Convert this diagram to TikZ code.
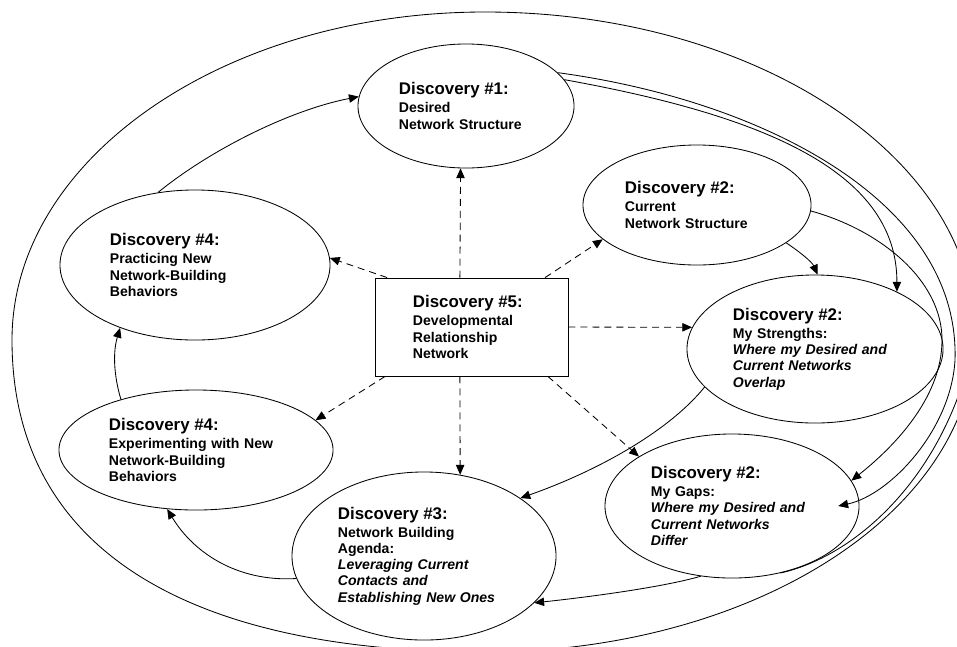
\documentclass[tikz,border=0pt]{standalone}
\usepackage{fontspec}
\setmainfont{Liberation Sans}
\usepackage{tikz}
\usetikzlibrary{shapes.geometric,arrows.meta}
\newcommand{\dischead}[1]{{\fontsize{12}{13}\selectfont #1}\\[1.2pt]}

\begin{document}
\begin{tikzpicture}[x=0.025cm,y=-0.025cm,line width=0.6pt,
    >={Triangle[length=7pt,width=6pt]},
    disc/.style={ellipse,draw,inner sep=0pt,align=left,
      font=\bfseries\fontsize{10}{11.6}\selectfont},
    hub/.style={rectangle,draw,inner sep=0pt,align=left,
      font=\bfseries\fontsize{10}{11.6}\selectfont},
    spoke/.style={->,dash pattern=on 5pt off 3.5pt},
    flow/.style={->}]
  \useasboundingbox (0,0) rectangle (957,646);

  % outer rim
  \draw (12,340) .. controls (12,159) and (224,12) .. (485,12)
    .. controls (755,12) and (975,157) .. (975,335)
    .. controls (975,510) and (755,652) .. (485,652)
    .. controls (178,652) and (12,543) .. cycle;

  \node[disc,minimum width=5.4cm,minimum height=3.1cm,text width=3.35cm] (D1) at (466,106)
    {\dischead{Discovery \#1:}Desired\\Network Structure};
  \node[disc,minimum width=5.7cm,minimum height=3.0cm,text width=3.6cm] (D2c) at (697,205)
    {\dischead{Discovery \#2:}Current\\Network Structure};
  \node[disc,minimum width=6.4cm,minimum height=3.7cm,text width=4.1cm] (D2s) at (815,349)
    {\dischead{Discovery \#2:}My Strengths:\\\itshape Where my Desired and\\Current Networks\\Overlap};
  \node[disc,minimum width=6.35cm,minimum height=3.6cm,text width=4.05cm] (D2g) at (732,506)
    {\dischead{Discovery \#2:}My Gaps:\\\itshape Where my Desired and\\Current Networks\\Differ};
  \node[disc,minimum width=6.6cm,minimum height=4.2cm,text width=4.3cm] (D3) at (424,556)
    {\dischead{Discovery \#3:}Network Building\\Agenda:\\\itshape Leveraging Current\\Contacts and\\Establishing New Ones};
  \node[disc,minimum width=6.85cm,minimum height=3.0cm,text width=4.35cm] (D4e) at (196,450)
    {\dischead{Discovery \#4:}Experimenting with New\\Network-Building\\Behaviors};
  \node[disc,minimum width=6.75cm,minimum height=3.75cm,text width=4.25cm] (D4p) at (195,265)
    {\dischead{Discovery \#4:}Practicing New\\Network-Building\\Behaviors};
  \node[hub,minimum width=4.825cm,minimum height=2.45cm,text width=2.925cm] (D5) at (471.5,327)
    {\dischead{Discovery \#5:}Developmental\\Relationship\\Network};

  \coordinate (gapin) at ([xshift=-5.3mm]D2g.east);
  \coordinate (rim) at (975,335);

  % dashed spokes from the hub
  \draw[spoke] ([xshift=-2.9mm]D5.north) -- (D1.265);
  \draw[spoke] ([xshift=18.4mm]D5.north) -- (D2c.200);
  \draw[spoke] (D5.east) -- (D2s.170);
  \draw[spoke] ([xshift=19.1mm]D5.south) -- (D2g.152);
  \draw[spoke] ([xshift=-2.9mm]D5.south) -- (D3.66);
  \draw[spoke] ([xshift=-21.6mm]D5.south) -- (D4e.14);
  \draw[spoke] ([xshift=-21.1mm]D5.north) -- (D4p.3);

  % the cycle
  \draw[flow] (D4p.117) .. controls (210,150) and (290,110) .. (D1.175);
  \draw[flow] (D4e.146) .. controls (115,380) and (112,355) .. (D4p.220);
  \draw[flow] (D3.190) .. controls (240,582) and (195,555) .. (D4e.244);
  \draw[flow] (D2s.199) .. controls (670,430) and (600,470) .. (D3.31);
  \draw[flow] (D2g.246) .. controls (660,588) and (580,598) .. (D3.337);
  \draw[flow] (D2c.337) .. controls (800,252) and (812,262) .. (D2s.88);
  \draw[flow] (D1.15) .. controls (760,115) and (897,170) .. (D2s.35);
  \draw[flow] (D1.20) .. controls (760,100) and (960,200) .. (955,360)
    .. controls (951,430) and (890,495) .. (gapin);
  \draw[flow] (D2c.357) .. controls (880,230) and (942,280) .. (942,340)
    .. controls (942,400) and (890,450) .. (D2g.12);
  \draw (D2g.306) .. controls (860,555) and (950,470) .. (rim);
\end{tikzpicture}
\end{document}
